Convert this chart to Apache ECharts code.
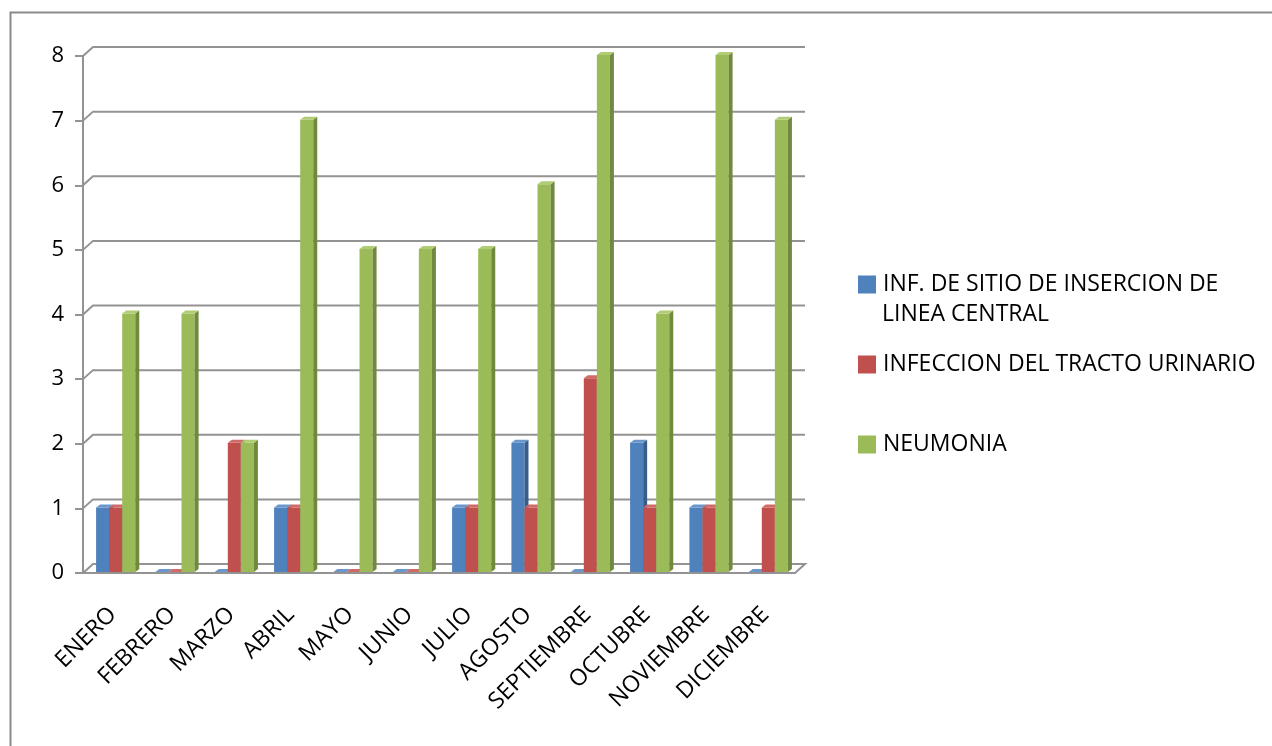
<!DOCTYPE html>
<html>
<head>
<meta charset="utf-8">
<style>
  html, body { margin: 0; padding: 0; background: #fff; }
  #chart { width: 1272px; height: 746px; }
</style>
<script src="https://cdn.jsdelivr.net/npm/echarts@6/dist/echarts.min.js"></script>
</head>
<body>
<div id="chart"></div>
<script>
// Monthly counts of infections by type
const categories = ['ENERO', 'FEBRERO', 'MARZO', 'ABRIL', 'MAYO', 'JUNIO', 'JULIO', 'AGOSTO', 'SEPTIEMBRE', 'OCTUBRE', 'NOVIEMBRE', 'DICIEMBRE'];
const seriesNames = ['INF. DE SITIO DE INSERCION DE LINEA CENTRAL', 'INFECCION DEL TRACTO URINARIO', 'NEUMONIA'];
const lineaCentral = [1, 0, 0, 1, 0, 0, 1, 2, 0, 2, 1, 0];
const tractoUrinario = [1, 0, 2, 1, 0, 0, 1, 1, 3, 1, 1, 1];
const neumonia = [4, 4, 2, 7, 5, 5, 5, 6, 8, 4, 8, 7];
const yTicks = [0, 1, 2, 3, 4, 5, 6, 7, 8];

const FONT = 'Open Sans';
const WALL_DX = 10, WALL_DY = 9;   // depth offset of the back wall
const BAR_DX = 4, BAR_DY = 3;      // depth of each column

const palette = [
  { front: '#4F81BD', side: '#385D8A', top: '#6A96CB' },
  { front: '#C0504D', side: '#8C3836', top: '#D06A67' },
  { front: '#9BBB59', side: '#71893F', top: '#B0CC74' }
];

// 3D-looking column: front face, darker right side, lighter top
function columnRenderer(k) {
  const c = palette[k];
  return function (params, api) {
    const ci = api.value(0);
    const v = api.value(1);
    const base = api.coord([ci, 0]);
    const topPt = api.coord([ci, v]);
    const band = api.size([1, 0])[0];
    const bw = band * 0.22;
    const x = base[0] - 1.5 * bw + k * bw + 3;
    const yb = base[1] - 1;
    const yt = topPt[1] - 1;
    return {
      type: 'group',
      children: [
        { type: 'rect', shape: { x: x, y: yt, width: bw, height: yb - yt }, style: { fill: c.front } },
        { type: 'polygon', shape: { points: [[x + bw, yt], [x + bw + BAR_DX, yt - BAR_DY], [x + bw + BAR_DX, yb - BAR_DY], [x + bw, yb]] }, style: { fill: c.side } },
        { type: 'polygon', shape: { points: [[x, yt], [x + BAR_DX, yt - BAR_DY], [x + bw + BAR_DX, yt - BAR_DY], [x + bw, yt]] }, style: { fill: c.top } }
      ]
    };
  };
}

// Side-wall and back-wall gridlines for each value tick
function wallRenderer(params, api) {
  const t = api.value(1);
  const cs = params.coordSys;
  const y = api.coord([0, t])[1];
  const x0 = cs.x, x1 = cs.x + cs.width;
  const pts = [[x0, y], [x0 + WALL_DX, y - WALL_DY], [x1 + WALL_DX, y - WALL_DY]];
  if (t === 0) pts.push([x1, y]);
  return {
    type: 'polyline',
    shape: { points: pts },
    style: { stroke: '#939393', lineWidth: 2, fill: null }
  };
}

const chart = echarts.init(document.getElementById('chart'));

const valueSets = [lineaCentral, tractoUrinario, neumonia];
const legendTops = [273, 353, 433];

chart.setOption({
  animation: false,
  backgroundColor: '#fff',
  graphic: [{
    type: 'rect',
    left: 8, top: 10,
    shape: { width: 1300, height: 800 },
    style: { fill: null, stroke: '#8A8A8A', lineWidth: 2 },
    silent: true
  }, {
    // second line of the first legend entry
    type: 'text',
    left: 882, top: 303,
    style: { text: 'LINEA CENTRAL', fill: '#000', font: '23px "Open Sans"' },
    silent: true
  }],
  grid: { left: 83, right: 477, top: 56, bottom: 173, containLabel: false },
  xAxis: {
    type: 'category',
    data: categories,
    axisLine: { lineStyle: { color: '#939393', width: 2 } },
    axisTick: { length: 7, lineStyle: { color: '#939393', width: 2 } },
    axisLabel: { rotate: 45, margin: 38, color: '#000', fontFamily: FONT, fontSize: 23 }
  },
  yAxis: {
    type: 'value',
    min: 0, max: 8, interval: 1,
    axisLine: { show: true, lineStyle: { color: '#939393', width: 2 } },
    axisTick: { show: true, length: 8, lineStyle: { color: '#939393', width: 2 } },
    splitLine: { show: false },
    axisLabel: { margin: 19, color: '#000', fontFamily: FONT, fontSize: 22 }
  },
  legend: [0, 1, 2].map(function (k) {
    return {
      data: [seriesNames[k]],
      left: 858,
      top: legendTops[k],
      itemWidth: 18, itemHeight: 18, itemGap: 0,
      icon: 'rect',
      padding: 0,
      formatter: function (name) {
        return name === seriesNames[0] ? 'INF. DE SITIO DE INSERCION DE' : name;
      },
      textStyle: { color: '#000', fontFamily: FONT, fontSize: 23, padding: [0, 0, 0, 2] }
    };
  }),
  series: [{
    type: 'custom',
    name: 'walls',
    renderItem: wallRenderer,
    data: yTicks.map(function (t) { return [0, t]; }),
    silent: true,
    z: 1
  }].concat(valueSets.map(function (vals, k) {
    return {
      type: 'custom',
      name: seriesNames[k],
      itemStyle: { color: palette[k].front },
      renderItem: columnRenderer(k),
      data: vals.map(function (v, i) { return [i, v]; }),
      z: 2 + k
    };
  }))
});
</script>
</body>
</html>
